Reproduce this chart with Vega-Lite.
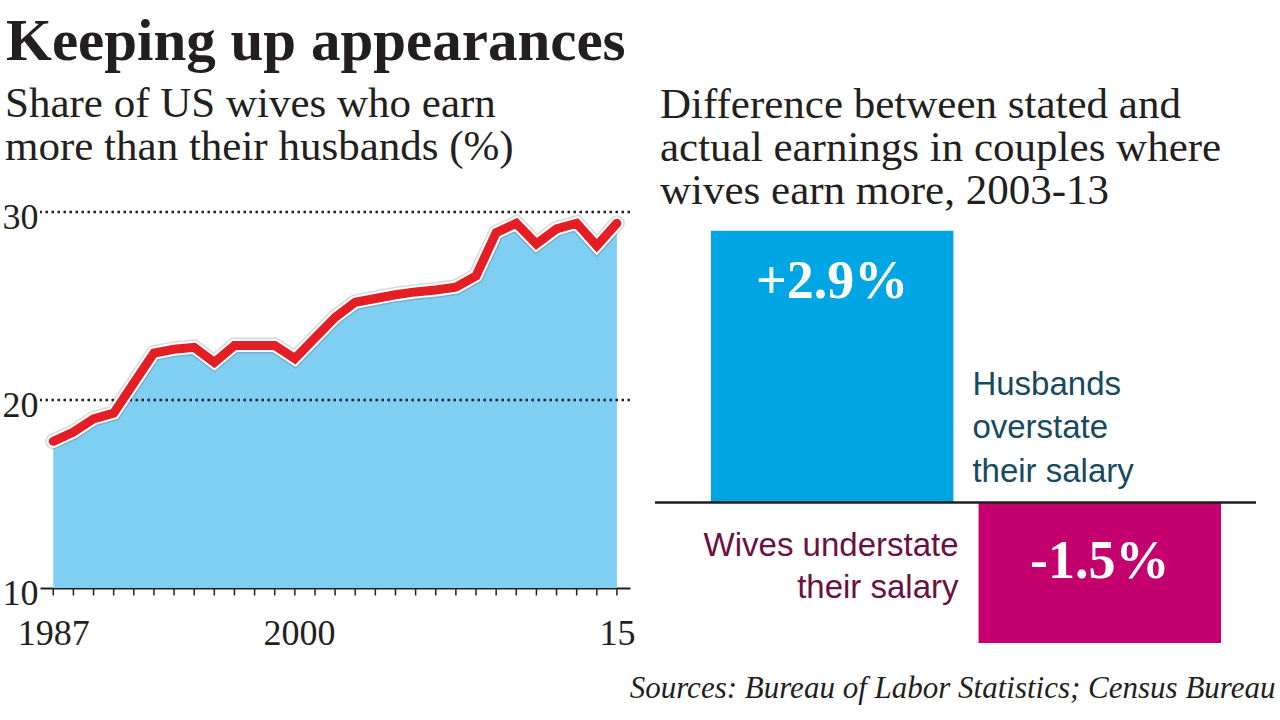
{
  "$schema": "https://vega.github.io/schema/vega-lite/v6.json",
  "padding": {"left": 2, "top": 13, "right": 3, "bottom": 5},
  "background": "white",
  "title": {"text": "Keeping up appearances", "anchor": "start", "frame": "bounds", "font": "Liberation Serif", "fontSize": 59, "fontWeight": "bold", "color": "#231f20", "baseline": "top", "offset": 11, "dx": 4},
  "config": {"view": {"stroke": null}, "font": "Liberation Serif", "axis": {"labelFont": "Liberation Serif", "labelColor": "#231f20"}},
  "spacing": 25,
  "bounds": "flush",
  "hconcat": [
    {
      "width": 590,
      "height": 376,
      "title": {"text": ["Share of US wives who earn", "more than their husbands (%)"], "anchor": "start", "frame": "bounds", "font": "Liberation Serif", "fontSize": 43, "fontWeight": "normal", "lineHeight": 43, "color": "#231f20", "offset": 22, "dx": 3},
      "data": {"values": [
        {"year": 1987, "share": 17.8}, {"year": 1988, "share": 18.3}, {"year": 1989, "share": 19.0}, {"year": 1990, "share": 19.3},
        {"year": 1991, "share": 20.9}, {"year": 1992, "share": 22.5}, {"year": 1993, "share": 22.7}, {"year": 1994, "share": 22.8},
        {"year": 1995, "share": 22.0}, {"year": 1996, "share": 22.9}, {"year": 1997, "share": 22.9}, {"year": 1998, "share": 22.9},
        {"year": 1999, "share": 22.2}, {"year": 2000, "share": 23.3}, {"year": 2001, "share": 24.4}, {"year": 2002, "share": 25.2},
        {"year": 2003, "share": 25.4}, {"year": 2004, "share": 25.6}, {"year": 2005, "share": 25.75}, {"year": 2006, "share": 25.85},
        {"year": 2007, "share": 26.0}, {"year": 2008, "share": 26.6}, {"year": 2009, "share": 28.9}, {"year": 2010, "share": 29.4},
        {"year": 2011, "share": 28.3}, {"year": 2012, "share": 29.1}, {"year": 2013, "share": 29.4}, {"year": 2014, "share": 28.2},
        {"year": 2015, "share": 29.4}
      ]},
      "layer": [
        {
          "mark": {"type": "area", "color": "#7fcff2"},
          "encoding": {
            "x": {"field": "year", "type": "quantitative", "scale": {"domain": [1986.34, 2015.65], "nice": false, "zero": false},
              "axis": {"values": [1987, 2000, 2015],
                "labelExpr": "datum.value == 2015 ? '15' : '' + datum.value",
                "labelOverlap": false, "labelFlush": false, "grid": false, "domain": true, "domainColor": "#231f20", "domainWidth": 2,
                "ticks": false, "labelFontSize": 36, "labelPadding": 28, "title": null,
                "labelOffset": {"condition": {"test": "datum.value == 2000", "value": -16}, "value": 0}}},
            "y": {"field": "share", "type": "quantitative", "scale": {"domain": [10, 30], "nice": false, "zero": false},
              "axis": {"values": [10, 20, 30], "grid": false, "domain": false, "ticks": false, "labelFontSize": 36, "labelPadding": 2, "labelOffset": 5, "title": null}},
            "y2": {"datum": 10}
          }
        },
        {
          "mark": {"type": "tick", "orient": "vertical", "size": 7, "thickness": 1.5, "color": "#231f20", "opacity": 1, "yOffset": 4},
          "encoding": {"x": {"field": "year", "type": "quantitative"}, "y": {"datum": 10}}
        },
        {
          "data": {"values": [{"level": 20}, {"level": 30}]},
          "mark": {"type": "rule", "strokeDash": [2.5, 3.5], "strokeWidth": 2.5, "color": "#231f20"},
          "encoding": {"y": {"field": "level", "type": "quantitative", "title": null}}
        },
        {
          "mark": {"type": "line", "color": "#333333", "strokeWidth": 16, "opacity": 0.18, "strokeCap": "round"},
          "encoding": {"x": {"field": "year", "type": "quantitative"}, "y": {"field": "share", "type": "quantitative"}}
        },
        {
          "mark": {"type": "line", "color": "white", "strokeWidth": 13, "strokeCap": "round"},
          "encoding": {"x": {"field": "year", "type": "quantitative"}, "y": {"field": "share", "type": "quantitative"}}
        },
        {
          "mark": {"type": "line", "color": "#e31e24", "strokeWidth": 9, "strokeCap": "round"},
          "encoding": {"x": {"field": "year", "type": "quantitative"}, "y": {"field": "share", "type": "quantitative"}}
        }
      ]
    },
    {
      "width": 601,
      "height": 431,
      "title": {"text": ["Difference between stated and", "actual earnings in couples where", "wives earn more, 2003-13"], "anchor": "start", "frame": "group", "font": "Liberation Serif", "fontSize": 43, "fontWeight": "normal", "lineHeight": 43, "color": "#231f20", "offset": -1, "dx": 5},
      "data": {"values": [
        {"group": "Husbands", "value": 2.9, "label": "+2.9%"},
        {"group": "Wives", "value": -1.5, "label": "-1.5%"}
      ]},
      "layer": [
        {
          "mark": {"type": "bar"},
          "encoding": {
            "x": {"field": "group", "type": "nominal", "scale": {"paddingInner": 0.094, "paddingOuter": 0.17, "align": 0.615},
              "axis": {"labels": false, "ticks": false, "domain": false, "title": "Sources: Bureau of Labor Statistics; Census Bureau",
                "titleFont": "Liberation Serif", "titleFontStyle": "italic", "titleFontWeight": "normal", "titleFontSize": 31, "titleColor": "#231f20",
                "titleAnchor": "end", "titleAlign": "right", "titleX": 620, "titlePadding": 30}},
            "y": {"field": "value", "type": "quantitative", "scale": {"domain": [-1.5, 3.1], "nice": false, "zero": false}, "axis": null},
            "color": {"field": "group", "type": "nominal", "scale": {"domain": ["Husbands", "Wives"], "range": ["#00a5e3", "#c4006f"]}, "legend": null}
          }
        },
        {
          "mark": {"type": "rule", "color": "#231f20", "strokeWidth": 2},
          "encoding": {"y": {"datum": 0}}
        },
        {
          "transform": [{"filter": "datum.value > 0"}],
          "mark": {"type": "text", "color": "white", "font": "Liberation Serif", "fontWeight": "bold", "fontSize": 54, "baseline": "middle", "dy": 51},
          "encoding": {"x": {"field": "group", "type": "nominal"}, "y": {"field": "value", "type": "quantitative"}, "text": {"field": "label"}}
        },
        {
          "transform": [{"filter": "datum.value < 0"}],
          "mark": {"type": "text", "color": "white", "font": "Liberation Serif", "fontWeight": "bold", "fontSize": 54, "baseline": "middle", "dy": -81},
          "encoding": {"x": {"field": "group", "type": "nominal"}, "y": {"field": "value", "type": "quantitative"}, "text": {"field": "label"}}
        },
        {
          "transform": [{"filter": "datum.group == 'Husbands'"}],
          "mark": {"type": "text", "align": "left", "baseline": "alphabetic", "font": "Liberation Sans", "fontSize": 33, "lineHeight": 43.5, "color": "#174a5f", "dx": 19},
          "encoding": {"x": {"field": "group", "type": "nominal", "bandPosition": 1}, "y": {"datum": 1.15}, "text": {"value": ["Husbands", "overstate", "their salary"]}}
        },
        {
          "transform": [{"filter": "datum.group == 'Wives'"}],
          "mark": {"type": "text", "align": "right", "baseline": "alphabetic", "font": "Liberation Sans", "fontSize": 33, "lineHeight": 42, "color": "#6b1040", "dx": -20},
          "encoding": {"x": {"field": "group", "type": "nominal", "bandPosition": 0}, "y": {"datum": -0.576}, "text": {"value": ["Wives understate", "their salary"]}}
        }
      ]
    }
  ]
}
